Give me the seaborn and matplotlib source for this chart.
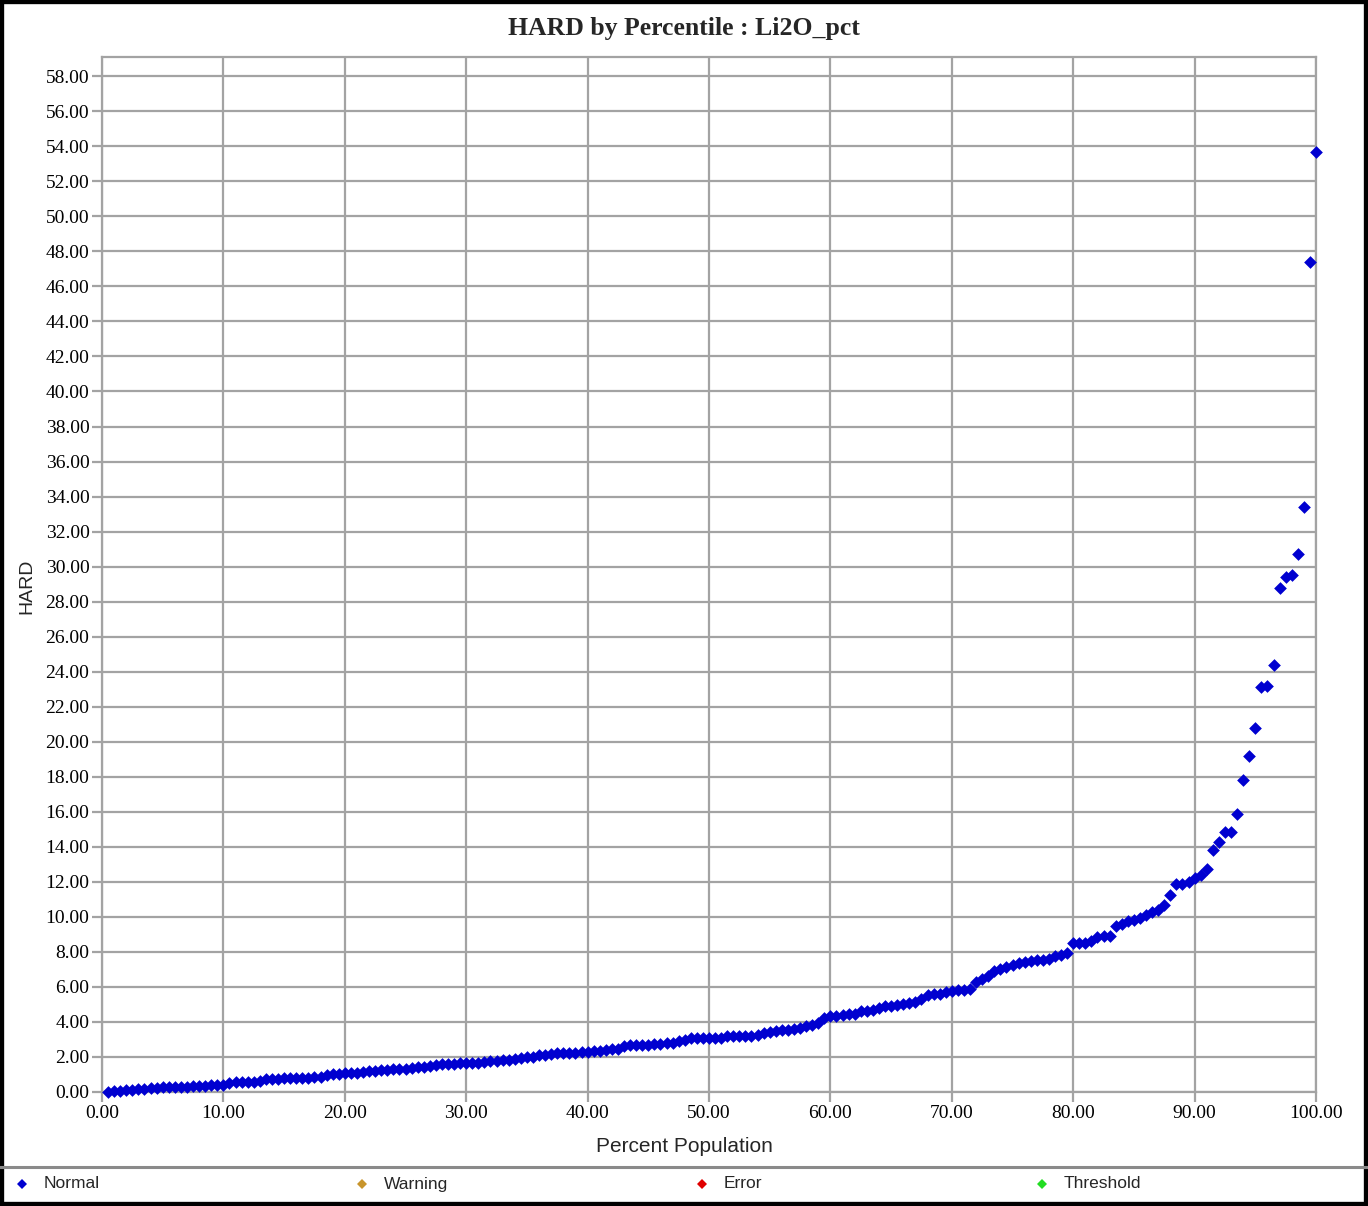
import numpy as np
import pandas as pd
import matplotlib.pyplot as plt
import matplotlib.patches as mpatches
import seaborn as sns
from matplotlib.lines import Line2D
from matplotlib.ticker import FormatStrFormatter, MultipleLocator

# valores HARD (ordenados, 200 muestras)
hard = [
    0.0, 0.05, 0.08, 0.1, 0.12, 0.15, 0.18, 0.22, 0.25, 0.27,
    0.28, 0.3, 0.3, 0.3, 0.32, 0.34, 0.37, 0.4, 0.4, 0.41,
    0.53, 0.55, 0.56, 0.57, 0.58, 0.65, 0.76, 0.77, 0.77, 0.78,
    0.78, 0.8, 0.82, 0.82, 0.86, 0.88, 0.95, 1.0, 1.04, 1.06,
    1.07, 1.1, 1.14, 1.18, 1.22, 1.25, 1.28, 1.31, 1.32, 1.33,
    1.35, 1.4, 1.45, 1.5, 1.56, 1.6, 1.62, 1.62, 1.63, 1.63,
    1.63, 1.68, 1.74, 1.79, 1.79, 1.82, 1.84, 1.88, 1.94, 1.98,
    2.02, 2.1, 2.14, 2.17, 2.2, 2.21, 2.21, 2.22, 2.28, 2.3,
    2.33, 2.36, 2.4, 2.43, 2.47, 2.65, 2.67, 2.68, 2.68, 2.69,
    2.72, 2.74, 2.78, 2.82, 2.9, 2.98, 3.06, 3.08, 3.09, 3.1,
    3.1, 3.11, 3.18, 3.2, 3.2, 3.2, 3.22, 3.26, 3.36, 3.42,
    3.47, 3.52, 3.54, 3.58, 3.65, 3.75, 3.82, 3.95, 4.2, 4.34,
    4.36, 4.42, 4.45, 4.48, 4.6, 4.63, 4.7, 4.8, 4.9, 4.92,
    4.96, 5.02, 5.08, 5.15, 5.3, 5.55, 5.58, 5.6, 5.72, 5.78,
    5.8, 5.84, 5.86, 6.28, 6.45, 6.62, 6.9, 7.0, 7.15, 7.25,
    7.35, 7.45, 7.5, 7.55, 7.55, 7.6, 7.75, 7.85, 7.95, 8.5,
    8.5, 8.5, 8.65, 8.85, 8.9, 8.9, 9.5, 9.6, 9.75, 9.85,
    9.95, 10.1, 10.25, 10.4, 10.7, 11.25, 11.9, 11.9, 12.0, 12.2,
    12.4, 12.75, 13.8, 14.3, 14.85, 14.85, 15.9, 17.8, 19.2, 20.8,
    23.1, 23.2, 24.4, 28.8, 29.4, 29.5, 30.7, 33.4, 47.4, 53.7,
]

legend_labels = ["Normal", "Warning", "Error", "Threshold"]
legend_colors = ["#0000d0", "#c8952c", "#e00000", "#22dd22"]

df = pd.DataFrame({"HARD": hard})
# percentil = rango / total
df["Percent Population"] = df["HARD"].rank(method="first") / len(df) * 100

sns.set_style("white")
plt.rcParams["font.family"] = ["Liberation Serif", "DejaVu Serif"]
sans = ["Liberation Sans", "DejaVu Sans"]

W, H = 1368, 1206
fig = plt.figure(figsize=(W / 100, H / 100), dpi=100)
ax = fig.add_axes([102 / W, 1 - 1092 / H, 1214 / W, 1035 / H])

sns.scatterplot(data=df, x="Percent Population", y="HARD", marker="D", s=42,
                color=legend_colors[0], edgecolor=legend_colors[0], linewidth=0,
                ax=ax, clip_on=False, zorder=3)

grid_c = "#a3a3a3"
ax.set_xlim(0, 100)
ax.set_ylim(0, 59.1)
ax.xaxis.set_major_locator(MultipleLocator(10))
ax.yaxis.set_major_locator(MultipleLocator(2))
ax.xaxis.set_major_formatter(FormatStrFormatter("%.2f"))
ax.yaxis.set_major_formatter(FormatStrFormatter("%.2f"))
ax.grid(True, color=grid_c, lw=1.6)
for sp in ax.spines.values():
    sp.set_color(grid_c)
    sp.set_linewidth(1.6)
ax.tick_params(length=7, width=1.6, color=grid_c, labelsize=14, pad=2,
               bottom=True, left=True, labelcolor="black")

ax.set_xlabel("Percent Population", fontsize=15, family=sans, va="center")
ax.set_ylabel("HARD", fontsize=14, family=sans, va="center")
ax.xaxis.set_label_coords((684 - 102) / 1214, (1092 - 1147) / 1035)
ax.yaxis.set_label_coords((27 - 102) / 1214, (1092 - 586) / 1035)

fig.text(0.5, 1 - 29 / H, "HARD by Percentile : Li2O_pct", ha="center", va="center",
         fontsize=18.5, fontweight="bold")

# leyenda inferior, cuatro entradas espaciadas igual
ly = 1 - 1184 / H
for i, (lab, c) in enumerate(zip(legend_labels, legend_colors)):
    x0 = 22 + 340 * i
    fig.add_artist(Line2D([x0 / W], [ly], transform=fig.transFigure, marker="D",
                          linestyle="none", markersize=5.5, color=c, markeredgewidth=0))
    fig.text((x0 + 22) / W, ly, lab, ha="left", va="center", fontsize=12.5, family=sans)

fig.add_artist(Line2D([0, 1], [1 - 1167 / H] * 2, transform=fig.transFigure,
                      color="#8a8a8a", lw=2.2))
fig.add_artist(mpatches.Rectangle((0, 0), 1, 1, transform=fig.transFigure,
                                  fill=False, ec="black", lw=6, clip_on=False))

fig.savefig("out.png", dpi=100, facecolor="white")
